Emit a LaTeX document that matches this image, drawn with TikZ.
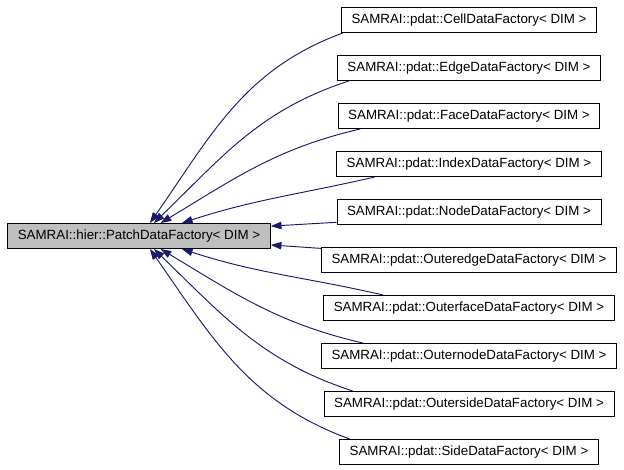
\documentclass[tikz,border=0pt]{standalone}
\usepackage{fontspec}
\setsansfont{Liberation Sans}
\usepackage{xcolor}
\usepackage{tikz}
\usetikzlibrary{arrows.meta, positioning}
\definecolor{edgeblue}{HTML}{191970}

\begin{document}
\begin{tikzpicture}[
    x=0.75pt, y=0.75pt,
    % Gap between the stacked derived classes
    node distance=16.55pt,
    cls/.style={
        rectangle, draw=black, line width=0.7pt, fill=white,
        inner xsep=7.6pt, inner ysep=0pt, text centered,
        minimum height=18.75pt,
        font=\sffamily\fontsize{10}{12}\selectfont
    },
    baseclass/.style={cls, fill=black!25},
    inherit/.style={-{Triangle[length=8pt, width=5.6pt]}, draw=edgeblue, line width=0.7pt}
]
  \useasboundingbox (0,0) rectangle (624,-469);

  % Base class
  \node[baseclass] (patch) at (139,-236) {SAMRAI::hier::PatchDataFactory< DIM >};

  % Derived classes, one column
  \node[cls] (cell) at (469,-20) {SAMRAI::pdat::CellDataFactory< DIM >};
  \node[cls, below=of cell] (edge) {SAMRAI::pdat::EdgeDataFactory< DIM >};
  \node[cls, below=of edge] (face) {SAMRAI::pdat::FaceDataFactory< DIM >};
  \node[cls, below=of face] (index) {SAMRAI::pdat::IndexDataFactory< DIM >};
  \node[cls, below=of index] (nodedf) {SAMRAI::pdat::NodeDataFactory< DIM >};
  \node[cls, below=of nodedf] (outeredge) {SAMRAI::pdat::OuteredgeDataFactory< DIM >};
  \node[cls, below=of outeredge] (outerface) {SAMRAI::pdat::OuterfaceDataFactory< DIM >};
  \node[cls, below=of outerface] (outernode) {SAMRAI::pdat::OuternodeDataFactory< DIM >};
  \node[cls, below=of outernode] (outerside) {SAMRAI::pdat::OutersideDataFactory< DIM >};
  \node[cls, below=of outerside] (side) {SAMRAI::pdat::SideDataFactory< DIM >};

  % Upper fan, onto the top of the base class
  \draw[inherit] ([xshift=1.5pt]cell.south west) to[out=200, in=55] ([xshift=107pt]patch.north west);
  \draw[inherit] ([xshift=9pt]edge.south west) to[out=198, in=44] ([xshift=110pt]patch.north west);
  \draw[inherit] ([xshift=17pt]face.south west) to[out=193, in=31] ([xshift=115pt]patch.north west);
  \draw[inherit] ([xshift=29pt]index.south west) to[out=193, in=18] ([xshift=131pt]patch.north west);

  % Middle pair, onto the right side
  \draw[inherit] ([yshift=2pt]nodedf.south west) -- ([yshift=-2.3pt]patch.north east);
  \draw[inherit] ([yshift=-1pt]outeredge.north west) -- ([yshift=3pt]patch.south east);

  % Lower fan, onto the bottom
  \draw[inherit] ([xshift=45pt]outerface.north west) to[out=167, in=-18] ([xshift=131pt]patch.south west);
  \draw[inherit] ([xshift=31.5pt]outernode.north west) to[out=167, in=-31] ([xshift=115pt]patch.south west);
  \draw[inherit] ([xshift=22pt]outerside.north west) to[out=162, in=-44] ([xshift=110pt]patch.south west);
  \draw[inherit] ([xshift=8pt]side.north west) to[out=160, in=-55] ([xshift=107pt]patch.south west);

\end{tikzpicture}
\end{document}
